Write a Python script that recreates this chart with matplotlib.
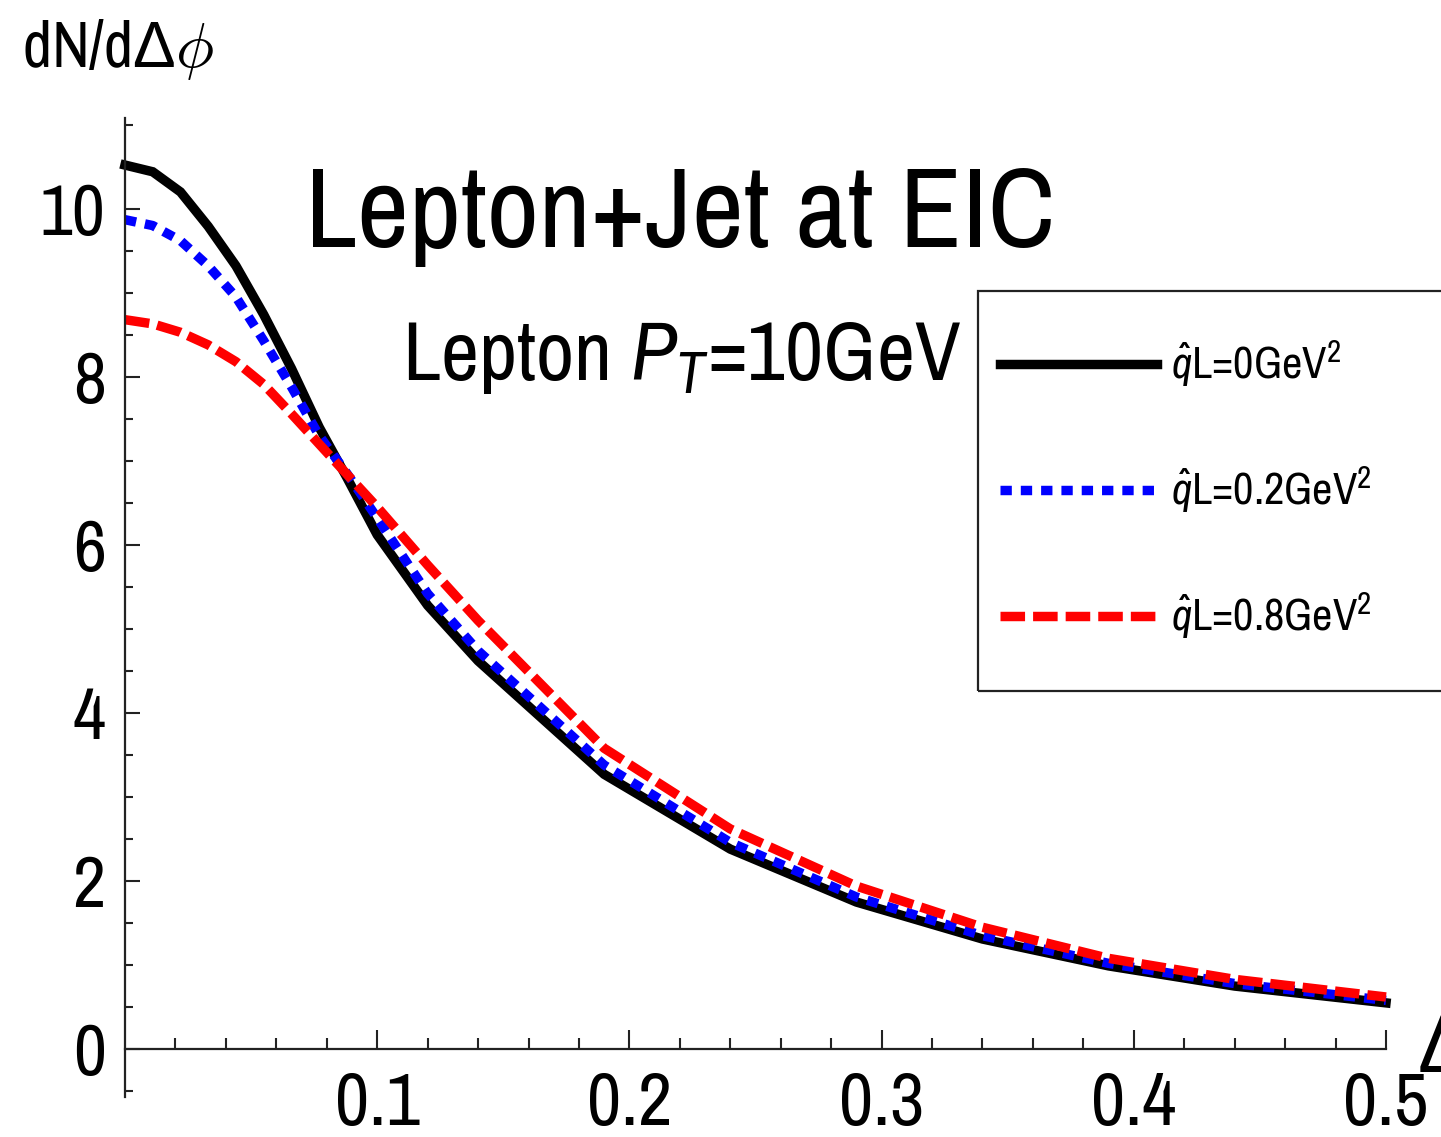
import numpy as np
import matplotlib
matplotlib.use("Agg")
from matplotlib import pyplot as plt
from matplotlib.patches import Rectangle

# 글꼴: 좁은 산세리프 (Δ 는 Liberation Sans 에서)
plt.rcParams['font.family'] = ['Archivo Narrow', 'DejaVu Sans']
plt.rcParams['mathtext.fontset'] = 'custom'
plt.rcParams['mathtext.rm'] = 'Archivo Narrow'
plt.rcParams['mathtext.it'] = 'Archivo Narrow:italic'
plt.rcParams['mathtext.bf'] = 'Archivo Narrow:bold'
plt.rcParams['mathtext.sf'] = 'Liberation Sans'

# 데이터
dphi = [0, 0.011, 0.022, 0.033, 0.044, 0.055, 0.066, 0.077, 0.088, 0.1,
        0.12, 0.14, 0.19, 0.24, 0.29, 0.34, 0.39, 0.44, 0.5]
qL0 = [10.52, 10.44, 10.20, 9.79, 9.32, 8.74, 8.10, 7.40, 6.80, 6.12,
       5.28, 4.62, 3.27, 2.38, 1.75, 1.31, 0.99, 0.75, 0.55]
qL02 = [9.87, 9.80, 9.62, 9.32, 8.95, 8.43, 7.88, 7.30, 6.85, 6.32,
        5.42, 4.74, 3.38, 2.46, 1.81, 1.35, 1.02, 0.78, 0.58]
qL08 = [8.68, 8.63, 8.53, 8.38, 8.18, 7.91, 7.56, 7.20, 6.84, 6.45,
        5.76, 5.10, 3.58, 2.62, 1.94, 1.45, 1.08, 0.83, 0.62]
labels = [r'$\hat{q}$L=0GeV$^2$', r'$\hat{q}$L=0.2GeV$^2$', r'$\hat{q}$L=0.8GeV$^2$']
xticks = [0.1, 0.2, 0.3, 0.4, 0.5]
yticks = [0, 2, 4, 6, 8, 10]

W, H = 1441, 1137
fig = plt.figure(figsize=(W / 100, H / 100), dpi=100)
ax = fig.add_axes([125 / W, 40 / H, 1261 / W, 979 / H])

lw = 6.8
ax.plot(dphi, qL0, color='black', lw=lw, label=labels[0], clip_on=False, solid_joinstyle='miter')
ax.plot(dphi, qL02, color='#0000FF', lw=lw, dashes=(1.2, 0.95), label=labels[1], clip_on=False)
ax.plot(dphi, qL08, color='#FF0000', lw=lw, dashes=(2.6, 0.85), label=labels[2], clip_on=False)

ax.set_xlim(0, 0.5)
ax.set_ylim(-0.57, 11.08)

# 축 모양 (Mathematica 스타일)
for s in ['top', 'right']:
    ax.spines[s].set_visible(False)
ax.spines['bottom'].set_position(('data', 0))
for s in ['left', 'bottom']:
    ax.spines[s].set_linewidth(1.6)
    ax.spines[s].set_color('#222222')

ax.set_xticks(xticks)
ax.set_xticklabels([str(v) for v in xticks])
ax.set_xticks(np.arange(0.02, 0.5, 0.02), minor=True)
ax.set_yticks(yticks)
ax.set_yticklabels([str(v) for v in yticks])
ax.set_yticks(np.arange(-0.5, 11.01, 0.5), minor=True)

ax.tick_params(axis='x', which='major', direction='in', length=14, width=1.5, pad=16,
               labelsize=54, color='#222222')
ax.tick_params(axis='x', which='minor', direction='in', length=8, width=1.5, color='#222222')
ax.tick_params(axis='y', which='major', direction='in', length=11, width=1.5, pad=14,
               labelsize=52, color='#222222')
ax.tick_params(axis='y', which='minor', direction='in', length=6, width=1.5, color='#222222')

# 글자
fig.text(22 / W, 1 - 67 / H, r'dN/d$\mathsf{\Delta}\phi$', fontsize=46, va='baseline', ha='left')
fig.text(1417 / W, 1 - 1072 / H, r'$\mathsf{\Delta}\phi$', fontsize=58, va='baseline', ha='left')
fig.text(305 / W, 1 - 247 / H, 'Lepton+Jet at EIC', fontsize=82, va='baseline', ha='left')
fig.text(402 / W, 1 - 380 / H, r'Lepton $P_T$=10GeV', fontsize=60, va='baseline', ha='left')

# 범례 상자 (오른쪽이 잘림)
fig.patches.append(Rectangle((978 / W, 1 - 691 / H), 600 / W, 400 / H, transform=fig.transFigure,
                             fill=False, edgecolor='#222222', lw=1.6))
leg = fig.legend(loc='center left', bbox_to_anchor=(1000 / W, 1 - 490 / H), frameon=False,
                 fontsize=32, handlelength=3.54, handletextpad=0.3, labelspacing=1.7,
                 borderpad=0, borderaxespad=0)

fig.savefig('out.png', dpi=100)
